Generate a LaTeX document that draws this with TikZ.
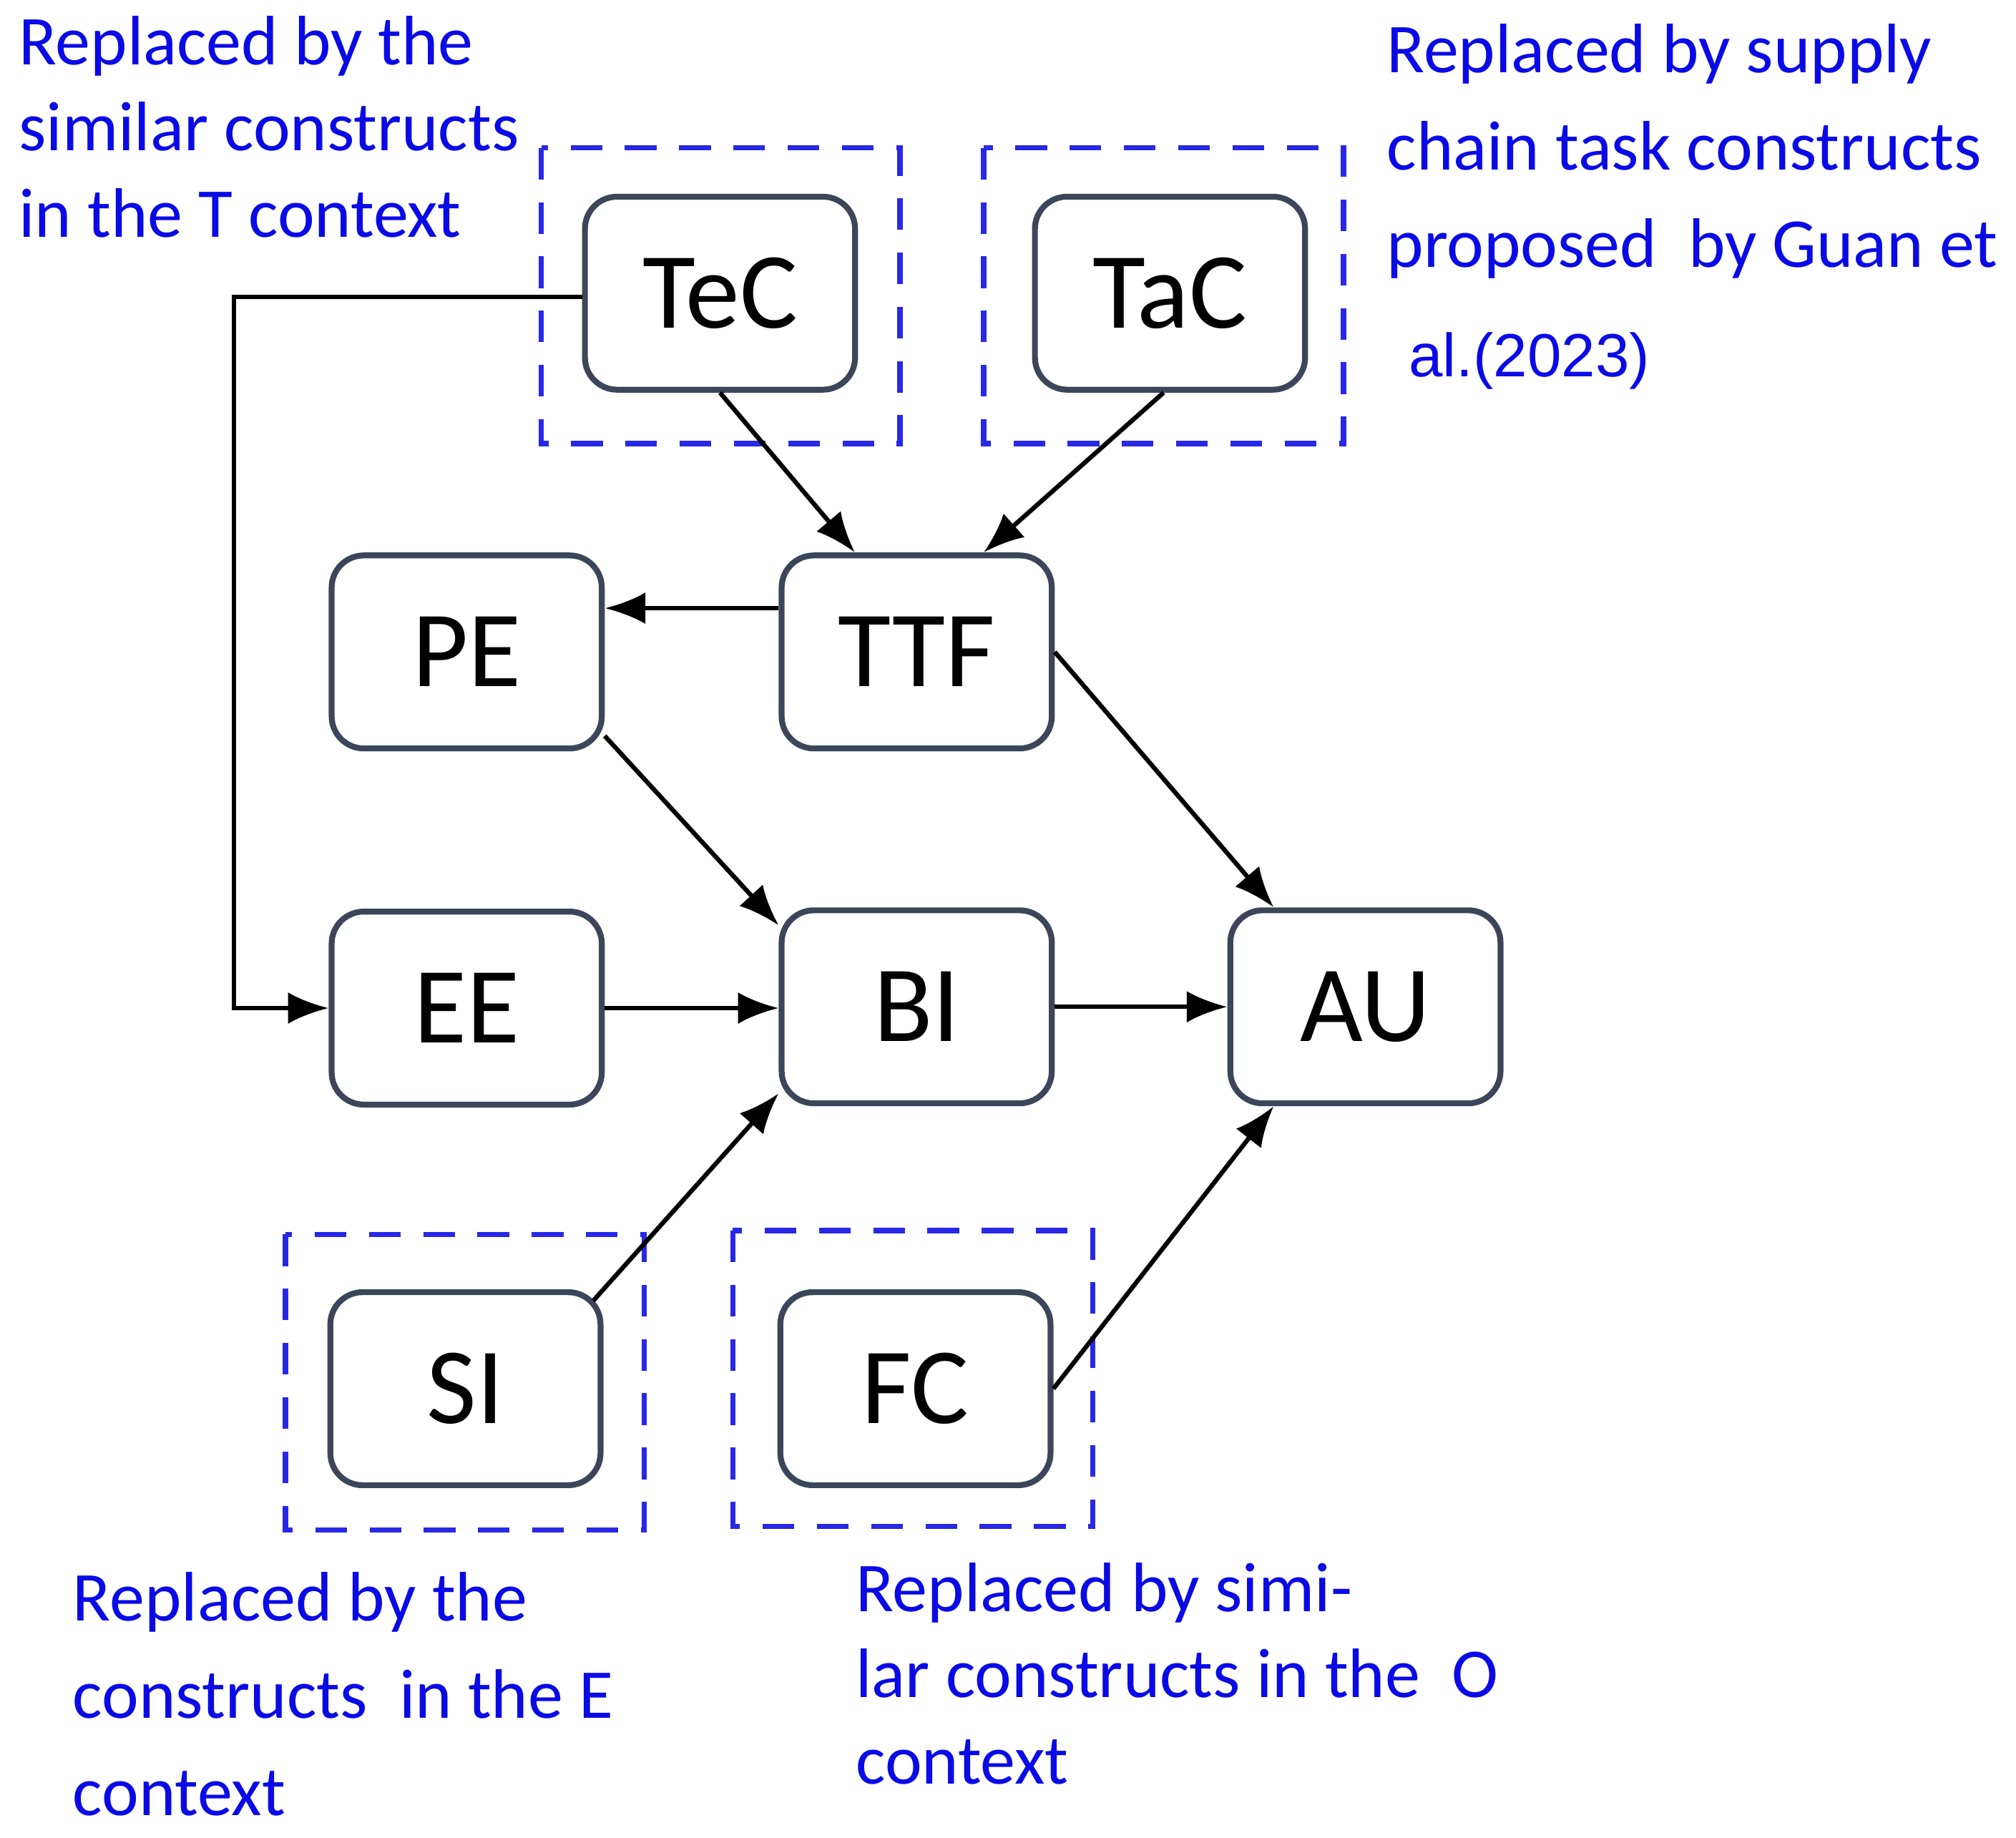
\documentclass[tikz,border=0pt]{standalone}
\usepackage{fontspec}
\setmainfont{Carlito}
\newfontfamily\arialf{Liberation Sans}
\usetikzlibrary{arrows.meta}
\definecolor{txtblue}{RGB}{10,10,230}
\definecolor{dashblue}{RGB}{40,40,230}
\definecolor{nodeborder}{RGB}{60,70,90}
\begin{document}
\begin{tikzpicture}[x=0.01cm,y=-0.01cm,
  box/.style={draw=nodeborder,line width=1.3pt,rounded corners=0.25cm,minimum width=2.1cm,minimum height=1.5cm,font=\fontsize{24}{30}\selectfont},
  grp/.style={draw=dashblue,dashed,line width=1.2pt,dash pattern=on 7pt off 5pt},
  arr/.style={-{Latex[length=9pt,width=7pt]},line width=1pt,black},
  lab/.style={text=txtblue,font=\fontsize{15.5}{19}\selectfont,align=left,anchor=north west,inner sep=0pt}]
\useasboundingbox (0,0) rectangle (1568,1429);
\draw[grp] (421,115) rectangle (700,345);
\draw[grp] (765,115) rectangle (1045,345);
\draw[grp] (222,960) rectangle (501,1190);
\draw[grp] (570,957) rectangle (850,1187);
\node[box] (TeC) at (560,228) {TeC};
\node[box] (TaC) at (910,228) {TaC};
\node[box] (PE) at (363,507) {PE};
\node[box] (TTF) at (713,507) {TTF};
\node[box] (EE) at (363,784) {EE};
\node[box] (BI) at (713,783) {BI};
\node[box] (AU) at (1062,783) {AU};
\node[box] (SI) at (362,1080) {SI};
\node[box] (FC) at (712,1080) {FC};
\coordinate (c1) at (182,231);
\coordinate (c2) at (182,784);
\draw[arr] (TeC.south) -- ([xshift=-0.48cm]TTF.north);
\draw[arr] ([xshift=-0.05cm]TaC.south) -- ([xshift=0.52cm]TTF.north);
\draw[arr] ([yshift=0.34cm]TTF.west) -- ([yshift=0.34cm]PE.east);
\draw[arr] (TTF.east) -- ([xshift=0.36cm]AU.north west);
\draw[arr] ([yshift=0.12cm]PE.south east) -- ([yshift=-0.14cm]BI.north west);
\draw[arr] (EE.east) -- (BI.west|-EE.east);
\draw[arr] (BI.east) -- (AU.west|-BI.east);
\draw[arr] ([xshift=-0.08cm,yshift=-0.09cm]SI.north east) -- ([yshift=0.1cm]BI.south west);
\draw[arr] (FC.east) -- ([xshift=0.36cm]AU.south west);
\draw[arr] (TeC.west|-c1) -- (c1) -- (c2) -- (EE.west);
\node[lab] (L1) at (14,12) {Replaced by the\\similar constructs\\in the T context};
\node[lab,font=\fontsize{15.5}{21.5}\selectfont] (L2) at (1078,18) {Replaced by supply\\chain task constructs\\proposed\ \ by Guan et};
\node[lab,font=\arialf\fontsize{13.5}{16}\selectfont] (L3) at (1095,258) {al.(2023)};
\node[lab,font=\fontsize{15.5}{21.5}\selectfont] (L4) at (56,1222) {Replaced by the\\constructs\ \ in the E\\context};
\node[lab] (L5) at (665,1215) {Replaced by simi-\\lar constructs in the\ \ O\\context};
\end{tikzpicture}
\end{document}
